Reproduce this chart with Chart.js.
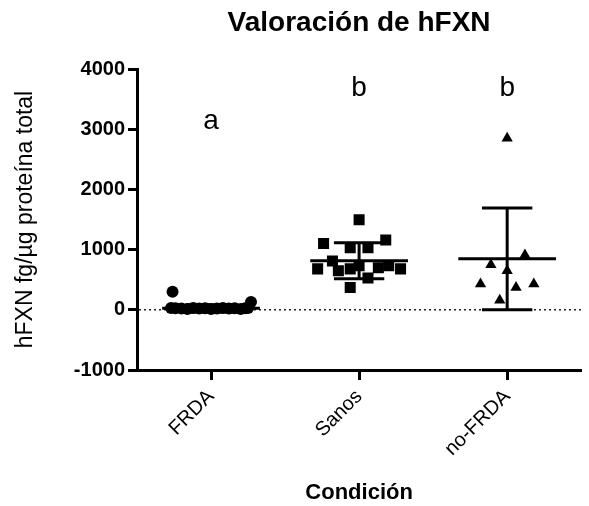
<!DOCTYPE html>
<html>
<head>
<meta charset="utf-8">
<script src="https://cdn.jsdelivr.net/npm/chart.js@4"></script>
<style>
  body { margin: 0; background: #fff; }
  #wrap { width: 589px; height: 506px; }
</style>
</head>
<body>
<div id="wrap"><canvas id="chart" width="589" height="506"></canvas></div>
<script>
'use strict';

// --- datos ---
const categories = ['FRDA', 'Sanos', 'no-FRDA'];
const groupLetters = ['a', 'b', 'b'];

// valores individuales (fg/ug) y desplazamiento horizontal (jitter, en unidades de categoria)
const frdaValues = [300, 30, 25, 20, 15, 30, 20, 25, 15, 20, 30, 20, 25, 15, 25, 30, 130];
const frdaJitter = [-0.26, -0.27, -0.24, -0.2, -0.16, -0.12, -0.08, -0.04, 0, 0.04, 0.08, 0.12, 0.16, 0.2, 0.23, 0.25, 0.27];

const sanosValues = [1495, 1100, 1160, 1030, 1030, 680, 810, 650, 680, 730, 530, 700, 730, 680, 370];
const sanosJitter = [0, -0.24, 0.18, -0.06, 0.06, -0.28, -0.18, -0.14, -0.06, 0, 0.06, 0.13, 0.2, 0.28, -0.06];

const noFrdaValues = [2850, 910, 750, 650, 430, 370, 430, 160];
const noFrdaJitter = [0, 0.12, -0.11, 0, -0.18, 0.06, 0.18, -0.05];

// media y desviacion estandar por grupo
const groupMeans = [25, 814, 847];
const groupSDs = [60, 300, 845];

const yTicks = [-1000, 0, 1000, 2000, 3000, 4000];

const FONT = "'Liberation Sans', Arial, Helvetica, sans-serif";

const toPoints = (values, jitter, idx) => values.map((v, i) => ({ x: idx + jitter[i], y: v }));

// linea punteada en y = 0
const zeroLine = {
    id: 'zeroLine',
    beforeDatasetsDraw(chart) {
        const { ctx, chartArea, scales } = chart;
        const y = scales.y.getPixelForValue(0);
        ctx.save();
        ctx.setLineDash([2, 3]);
        ctx.lineWidth = 1.5;
        ctx.strokeStyle = '#222';
        ctx.beginPath();
        ctx.moveTo(chartArea.left + 2, y);
        ctx.lineTo(chartArea.right, y);
        ctx.stroke();
        ctx.restore();
    }
};

// media +/- DE
const meanSD = {
    id: 'meanSD',
    afterDatasetsDraw(chart) {
        const { ctx, scales } = chart;
        const xs = scales.x, ys = scales.y;
        ctx.save();
        ctx.strokeStyle = '#000';
        ctx.lineWidth = 3;
        groupMeans.forEach((m, i) => {
            const sd = groupSDs[i];
            const yM = ys.getPixelForValue(m);
            const yTop = ys.getPixelForValue(m + sd);
            const yBot = ys.getPixelForValue(m - sd);
            const xc = xs.getPixelForValue(i);
            ctx.beginPath();
            ctx.moveTo(xs.getPixelForValue(i - 0.33), yM);
            ctx.lineTo(xs.getPixelForValue(i + 0.33), yM);
            ctx.moveTo(xc, yTop);
            ctx.lineTo(xc, yBot);
            ctx.moveTo(xs.getPixelForValue(i - 0.17), yTop);
            ctx.lineTo(xs.getPixelForValue(i + 0.17), yTop);
            ctx.moveTo(xs.getPixelForValue(i - 0.17), yBot);
            ctx.lineTo(xs.getPixelForValue(i + 0.17), yBot);
            ctx.stroke();
        });
        ctx.restore();
    }
};

// letras de significancia y titulo centrado sobre el area del grafico
const annotations = {
    id: 'annotations',
    afterDraw(chart) {
        const { ctx, chartArea, scales } = chart;
        ctx.save();
        ctx.fillStyle = '#000';
        ctx.textAlign = 'center';
        ctx.textBaseline = 'alphabetic';
        ctx.font = `28px ${FONT}`;
        groupLetters.forEach((t, i) => {
            const yVal = t === 'a' ? 3000 : 3550;
            ctx.fillText(t, scales.x.getPixelForValue(i), scales.y.getPixelForValue(yVal));
        });
        ctx.font = `bold 28px ${FONT}`;
        ctx.textBaseline = 'middle';
        ctx.fillText('Valoración de hFXN', (chartArea.left + chartArea.right) / 2, 23);
        ctx.restore();
    }
};

new Chart(document.getElementById('chart'), {
    type: 'scatter',
    data: {
        datasets: [
            { label: categories[0], data: toPoints(frdaValues, frdaJitter, 0), pointStyle: 'circle', pointRadius: 6 },
            { label: categories[1], data: toPoints(sanosValues, sanosJitter, 1), pointStyle: 'rect', pointRadius: 7.8 },
            { label: categories[2], data: toPoints(noFrdaValues, noFrdaJitter, 2), pointStyle: 'triangle', pointRadius: 6.5 }
        ].map(ds => Object.assign(ds, {
            backgroundColor: '#000',
            borderColor: '#000',
            borderWidth: 0,
            pointHoverRadius: ds.pointRadius
        }))
    },
    options: {
        responsive: false,
        animation: false,
        layout: { padding: { top: 69, left: 8, right: 4, bottom: 0 } },
        plugins: {
            legend: { display: false },
            tooltip: { enabled: false },
            title: { display: false }
        },
        scales: {
            x: {
                type: 'linear',
                min: -0.5,
                max: 2.5,
                afterBuildTicks: scale => { scale.ticks = categories.map((c, i) => ({ value: i })); },
                afterFit: scale => { scale.height = 136; },
                ticks: {
                    autoSkip: false,
                    minRotation: 45,
                    maxRotation: 45,
                    padding: 5,
                    color: '#000',
                    font: { family: FONT, size: 20 },
                    callback: v => categories[v]
                },
                grid: { drawOnChartArea: false, drawTicks: true, tickLength: 10, tickWidth: 3, tickColor: '#000' },
                border: { display: true, color: '#000', width: 3 },
                title: {
                    display: true,
                    text: 'Condición',
                    color: '#000',
                    font: { family: FONT, size: 22, weight: 'bold' },
                    padding: { top: 0, bottom: 0 }
                }
            },
            y: {
                min: -1000,
                max: 4000,
                afterBuildTicks: scale => { scale.ticks = yTicks.map(v => ({ value: v })); },
                afterFit: scale => { scale.width = 129; },
                ticks: {
                    padding: 3,
                    color: '#000',
                    font: { family: FONT, size: 20, weight: 'bold' },
                    callback: v => String(v)
                },
                grid: { drawOnChartArea: false, drawTicks: true, tickLength: 9, tickWidth: 3, tickColor: '#000' },
                border: { display: true, color: '#000', width: 3 },
                title: {
                    display: true,
                    text: 'hFXN fg/µg proteína total',
                    color: '#000',
                    font: { family: FONT, size: 23 },
                    padding: { top: 4, bottom: 0 }
                }
            }
        }
    },
    plugins: [zeroLine, meanSD, annotations]
});
</script>
</body>
</html>
